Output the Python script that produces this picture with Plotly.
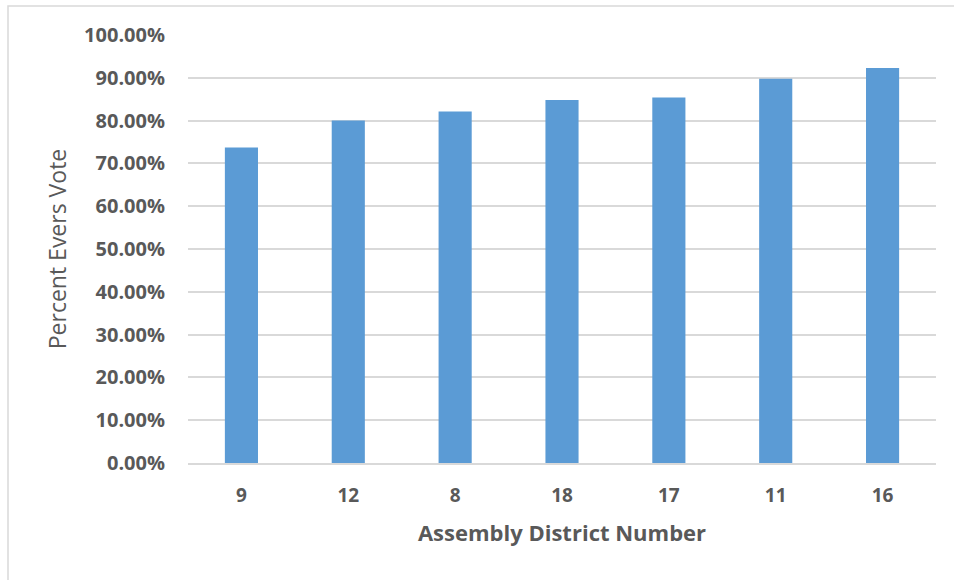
import plotly.graph_objects as go

districts = ["9", "12", "8", "18", "17", "11", "16"]
percent_vote = [0.737, 0.800, 0.821, 0.848, 0.854, 0.898, 0.923]
y_ticks = [i / 10 for i in range(11)]
y_tick_labels = [f"{v*100:.2f}%" for v in y_ticks]

W, H = 954, 580
L, R, T, B = 188, 18, 35, 117
pw, ph = W - L - R, H - T - B

def px(x):
    return (x - L) / pw

def py(y):
    return (H - B - y) / ph

fig = go.Figure(go.Bar(
    x=districts, y=percent_vote,
    marker=dict(color="#5b9bd5", line=dict(width=0)),
    width=0.31,
))

fig.update_layout(
    width=W, height=H,
    margin=dict(l=L, r=R, t=T, b=B),
    paper_bgcolor="white", plot_bgcolor="white",
    showlegend=False,
    font=dict(family="Open Sans", color="#595959"),
    xaxis=dict(
        type="category",
        showgrid=False, showline=True, linecolor="#d9d9d9", linewidth=1.5,
        ticks="outside", ticklen=14, tickcolor="rgba(0,0,0,0)",
        tickfont=dict(size=19, family="Open Sans", weight="bold"),
        title=dict(text="Assembly District Number", standoff=19,
                   font=dict(size=22, family="Open Sans", weight="bold")),
    ),
    yaxis=dict(
        range=[0, 1.0], tickvals=y_ticks, ticktext=y_tick_labels,
        showgrid=True, gridcolor="#d9d9d9", gridwidth=1.5,
        zeroline=False,
        ticks="outside", ticklen=18, tickcolor="rgba(0,0,0,0)",
        tickfont=dict(size=20, family="Open Sans", weight="bold"),
        title=dict(text="Percent Evers Vote", standoff=11,
                   font=dict(size=23, family="Open Sans")),
    ),
    shapes=[dict(type="rect", xref="paper", yref="paper",
                 x0=px(8), x1=px(970), y0=py(600), y1=py(6),
                 line=dict(color="#d9d9d9", width=1.5), layer="below")],
)

fig.write_html("out.html")
